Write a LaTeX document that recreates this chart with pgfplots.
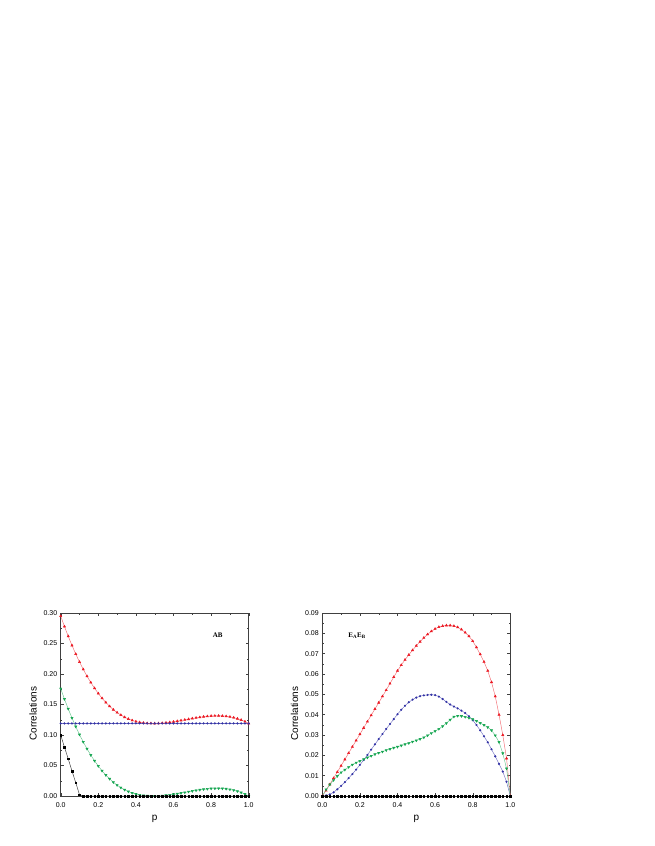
\documentclass[border=0pt]{standalone}
\usepackage{fontspec}
\setmainfont{Liberation Sans}
\newfontfamily\lserif{Liberation Serif}
\usepackage{pgfplots}
\usepackage{pgfplotstable}
\pgfplotsset{compat=1.18}

\definecolor{cred}{RGB}{235,25,35}
\definecolor{cgreen}{RGB}{20,165,80}
\definecolor{cblue}{RGB}{50,50,165}

% left panel: p, red, green, blue, black
\pgfplotstableread{
p red green blue black
0.00 0.2950 0.1760 0.119 0.100
0.02 0.2779 0.1589 0.119 0.080
0.04 0.2619 0.1429 0.119 0.061
0.06 0.2469 0.1279 0.119 0.041
0.08 0.2328 0.1138 0.119 0.022
0.10 0.2197 0.1007 0.119 0.002
0.12 0.2076 0.0886 0.119 0
0.14 0.1964 0.0774 0.119 0
0.16 0.1861 0.0671 0.119 0
0.18 0.1767 0.0577 0.119 0
0.20 0.1681 0.0491 0.119 0
0.22 0.1603 0.0413 0.119 0
0.24 0.1533 0.0343 0.119 0
0.26 0.1471 0.0281 0.119 0
0.28 0.1416 0.0226 0.119 0
0.30 0.1368 0.0178 0.119 0
0.32 0.1327 0.0137 0.119 0
0.34 0.1292 0.0102 0.119 0
0.36 0.1263 0.0073 0.119 0
0.38 0.1240 0.0050 0.119 0
0.40 0.1221 0.0031 0.119 0
0.42 0.1208 0.0018 0.119 0
0.44 0.1199 0.0009 0.119 0
0.46 0.1193 0.0003 0.119 0
0.48 0.1191 0.0001 0.119 0
0.50 0.1190 0.0000 0.119 0
0.52 0.1191 0.0001 0.119 0
0.54 0.1195 0.0005 0.119 0
0.56 0.1201 0.0011 0.119 0
0.58 0.1208 0.0018 0.119 0
0.60 0.1217 0.0027 0.119 0
0.62 0.1227 0.0037 0.119 0
0.64 0.1238 0.0048 0.119 0
0.66 0.1249 0.0059 0.119 0
0.68 0.1260 0.0070 0.119 0
0.70 0.1271 0.0081 0.119 0
0.72 0.1282 0.0092 0.119 0
0.74 0.1291 0.0101 0.119 0
0.76 0.1300 0.0110 0.119 0
0.78 0.1306 0.0116 0.119 0
0.80 0.1312 0.0122 0.119 0
0.82 0.1314 0.0124 0.119 0
0.84 0.1315 0.0125 0.119 0
0.86 0.1313 0.0123 0.119 0
0.88 0.1307 0.0117 0.119 0
0.90 0.1298 0.0108 0.119 0
0.92 0.1285 0.0095 0.119 0
0.94 0.1268 0.0078 0.119 0
0.96 0.1247 0.0057 0.119 0
0.98 0.1221 0.0031 0.119 0
1.00 0.1190 0.0000 0.119 0
}\leftdata

% right panel: p, red, blue, green, black
\pgfplotstableread{
p red blue green black
0.00 0.0000 0.0000 0.0000 0
0.02 0.0027 0.0003 0.0032 0
0.04 0.0057 0.0008 0.0056 0
0.06 0.0088 0.0018 0.0078 0
0.08 0.0118 0.0033 0.0098 0
0.10 0.0149 0.0050 0.0116 0
0.12 0.0180 0.0068 0.0129 0
0.14 0.0211 0.0088 0.0142 0
0.16 0.0242 0.0108 0.0154 0
0.18 0.0273 0.0130 0.0164 0
0.20 0.0304 0.0153 0.0172 0
0.22 0.0335 0.0177 0.0181 0
0.24 0.0366 0.0202 0.0189 0
0.26 0.0397 0.0228 0.0197 0
0.28 0.0428 0.0254 0.0205 0
0.30 0.0459 0.0280 0.0212 0
0.32 0.0490 0.0305 0.0218 0
0.34 0.0521 0.0330 0.0225 0
0.36 0.0553 0.0354 0.0231 0
0.38 0.0585 0.0378 0.0237 0
0.40 0.0616 0.0402 0.0242 0
0.42 0.0644 0.0424 0.0248 0
0.44 0.0670 0.0444 0.0254 0
0.46 0.0694 0.0461 0.0260 0
0.48 0.0717 0.0474 0.0267 0
0.50 0.0739 0.0484 0.0273 0
0.52 0.0759 0.0491 0.0280 0
0.54 0.0778 0.0495 0.0288 0
0.56 0.0795 0.0497 0.0298 0
0.58 0.0810 0.0498 0.0309 0
0.60 0.0822 0.0496 0.0319 0
0.62 0.0831 0.0489 0.0330 0
0.64 0.0836 0.0477 0.0343 0
0.66 0.0839 0.0463 0.0358 0
0.68 0.0839 0.0450 0.0375 0
0.70 0.0836 0.0440 0.0390 0
0.72 0.0830 0.0431 0.0394 0
0.74 0.0819 0.0420 0.0393 0
0.76 0.0804 0.0408 0.0389 0
0.78 0.0786 0.0392 0.0384 0
0.80 0.0762 0.0373 0.0378 0
0.82 0.0731 0.0349 0.0369 0
0.84 0.0697 0.0323 0.0359 0
0.86 0.0660 0.0294 0.0349 0
0.88 0.0616 0.0264 0.0338 0
0.90 0.0560 0.0230 0.0323 0
0.92 0.0490 0.0195 0.0298 0
0.94 0.0400 0.0158 0.0265 0
0.96 0.0300 0.0120 0.0210 0
0.98 0.0185 0.0070 0.0135 0
1.00 0.0000 0.0000 0.0000 0
}\rightdata

\pgfplotsset{corr/.style={
  scale only axis, width=188pt, height=183pt,
  xmin=0, xmax=1, ymin=0, clip=false,
  axis line style={black!75, line width=0.5pt},
  tick style={black!75, line width=0.4pt},
  tick align=inside,
  major tick length=3pt, minor tick length=1.5pt,
  xtick={0,0.2,0.4,0.6,0.8,1.0}, minor x tick num=1, minor y tick num=1,
  scaled ticks=false,
  xticklabel={\pgfmathprintnumber[fixed,fixed zerofill,precision=1,assume math mode=true]{\tick}},
  yticklabel={\pgfmathprintnumber[fixed,fixed zerofill,precision=2,assume math mode=true]{\tick}},
  tick label style={font=\fontsize{7}{8}\selectfont},
  xticklabel style={yshift=-3pt},
  label style={font=\fontsize{10}{12}\selectfont},
  xlabel={p}, ylabel={Correlations},
  xlabel style={yshift=-1pt},
  ylabel style={at={(ticklabel cs:0.45)}},
},
rline/.style={cred!65, line width=0.45pt, mark=triangle*, mark size=1.3pt, mark options={cred, fill=cred}},
gline/.style={cgreen!65, line width=0.45pt, mark=triangle*, mark size=1.3pt, mark options={cgreen, fill=cgreen, rotate=180}},
bline/.style={cblue!70, line width=0.45pt, mark=*, mark size=0.85pt, mark options={cblue, fill=cblue}},
kline/.style={black!80, line width=0.45pt, mark=square*, mark size=0.8pt, mark options={black, fill=black}},
}

\begin{document}
\begin{tikzpicture}
\path[use as bounding box] (0,0) rectangle (654pt,846pt);

\begin{axis}[corr, at={(60.7pt,50pt)}, anchor=south west,
  ymax=0.30, ytick={0,0.05,0.10,0.15,0.20,0.25,0.30}]
  \addplot[rline] table[x=p, y=red] {\leftdata};
  \addplot[bline] table[x=p, y=blue] {\leftdata};
  \addplot[gline] table[x=p, y=green] {\leftdata};
  \addplot[kline] table[x=p, y=black] {\leftdata};
  \node[font=\lserif\bfseries\fontsize{7}{8}\selectfont, anchor=west] at (axis cs:0.79,0.263) {AB};
\end{axis}

\begin{axis}[corr, at={(322.3pt,50pt)}, anchor=south west,
  ymax=0.09, ytick={0,0.01,0.02,0.03,0.04,0.05,0.06,0.07,0.08,0.09}]
  \addplot[rline] table[x=p, y=red] {\rightdata};
  \addplot[bline] table[x=p, y=blue] {\rightdata};
  \addplot[gline] table[x=p, y=green] {\rightdata};
  \addplot[kline] table[x=p, y=black] {\rightdata};
  \node[font=\lserif\bfseries\fontsize{7}{8}\selectfont, anchor=west] at (axis cs:0.12,0.079) {E\textsubscript{A}E\textsubscript{B}};
\end{axis}
\end{tikzpicture}
\end{document}
